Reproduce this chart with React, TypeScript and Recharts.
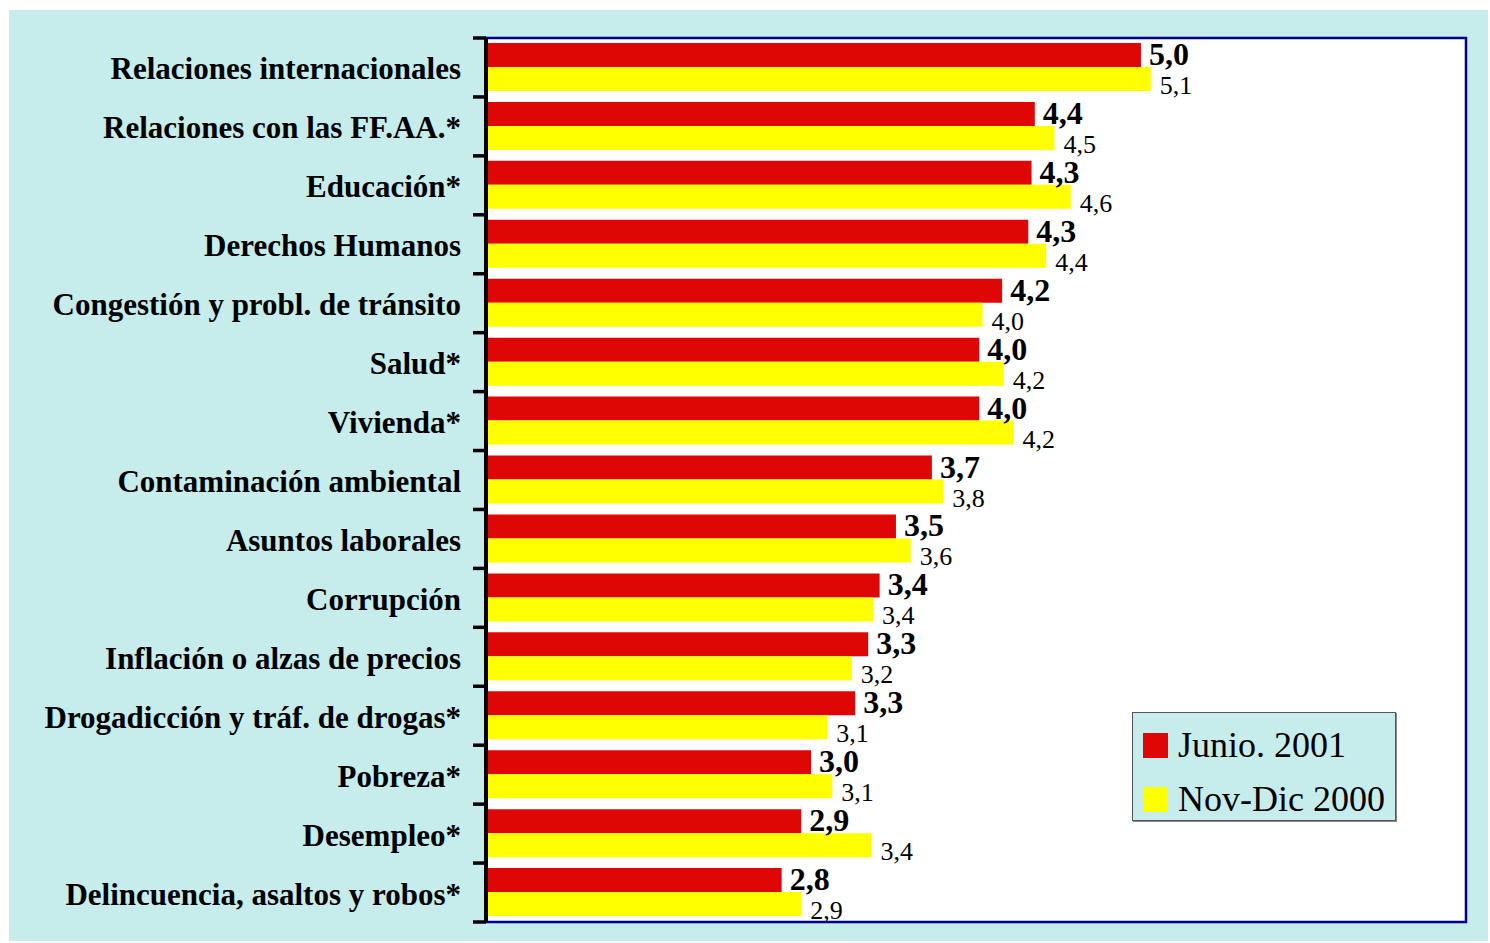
import React from 'react';
import { BarChart, Bar, XAxis, YAxis, ReferenceArea, LabelList, Legend } from 'recharts';

const categories = [
  'Relaciones internacionales',
  'Relaciones con las FF.AA.*',
  'Educación*',
  'Derechos Humanos',
  'Congestión y probl. de tránsito',
  'Salud*',
  'Vivienda*',
  'Contaminación ambiental',
  'Asuntos laborales',
  'Corrupción',
  'Inflación o alzas de precios',
  'Drogadicción y tráf. de drogas*',
  'Pobreza*',
  'Desempleo*',
  'Delincuencia, asaltos y robos*',
];

const junio2001 = [5.01, 4.36, 4.34, 4.32, 4.16, 4.02, 4.02, 3.73, 3.51, 3.41, 3.34, 3.26, 2.99, 2.93, 2.81];
const novDic2000 = [5.07, 4.48, 4.58, 4.43, 4.04, 4.17, 4.23, 3.8, 3.6, 3.37, 3.24, 3.09, 3.12, 3.36, 2.93];
const junioLabels = ['5,0', '4,4', '4,3', '4,3', '4,2', '4,0', '4,0', '3,7', '3,5', '3,4', '3,3', '3,3', '3,0', '2,9', '2,8'];
const novDicLabels = ['5,1', '4,5', '4,6', '4,4', '4,0', '4,2', '4,2', '3,8', '3,6', '3,4', '3,2', '3,1', '3,1', '3,4', '2,9'];

const seriesNames = ['Junio. 2001', 'Nov-Dic 2000'];
const xDomain = [1, 7];

const data = categories.map((c, i) => ({
  name: c,
  junio: junio2001[i],
  novdic: novDic2000[i],
  junioLabel: junioLabels[i],
  novdicLabel: novDicLabels[i],
}));

const FONT = '"Liberation Serif", "Times New Roman", serif';
const RED = '#DF0606';
const YELLOW = '#FFFF00';
const CYAN = '#C6ECEB';
const NAVY = '#00008C';

const W = 1479;
const H = 931;
const MARGIN = { top: 28, right: 22, bottom: 19, left: 0 };
const Y_AXIS_W = 477;
const BAND = (H - MARGIN.top - MARGIN.bottom) / categories.length;

const CategoryTick = (props: any) => {
  const { y, payload, index } = props;
  const top = y - BAND / 2;
  const bottom = y + BAND / 2;
  return (
    <g>
      <line x1={Y_AXIS_W - 13} x2={Y_AXIS_W} y1={top} y2={top} stroke="#000" strokeWidth={3.5} />
      {index === categories.length - 1 && (
        <line x1={Y_AXIS_W - 13} x2={Y_AXIS_W} y1={bottom} y2={bottom} stroke="#000" strokeWidth={3.5} />
      )}
      <text
        x={Y_AXIS_W - 25}
        y={y + 12}
        textAnchor="end"
        fontFamily={FONT}
        fontWeight="bold"
        fontSize={31}
        fill="#000"
      >
        {payload.value}
      </text>
    </g>
  );
};

const RedLabel = (props: any) => {
  const { x, y, width, height, value } = props;
  return (
    <text x={x + width + 8} y={y + height - 2} fontFamily={FONT} fontWeight="bold" fontSize={32} fill="#000">
      {value}
    </text>
  );
};

const YellowLabel = (props: any) => {
  const { x, y, width, height, value } = props;
  return (
    <text x={x + width + 9} y={y + height + 3} fontFamily={FONT} fontSize={26} fill="#000">
      {value}
    </text>
  );
};

const LegendBox = (props: any) => {
  const payload = props.payload || [];
  return (
    <div
      style={{
        position: 'relative',
        width: 262,
        height: 107,
        background: CYAN,
        border: '1.5px solid #555',
        boxShadow: '1px 1px 0 #888',
        fontFamily: FONT,
      }}
    >
      {payload.map((p: any, i: number) => (
        <div key={i} style={{ position: 'absolute', left: 10, top: 19 + i * 54, height: 26, display: 'flex', alignItems: 'center' }}>
          <div style={{ width: 25, height: 25, background: p.color }} />
          <span style={{ marginLeft: 10, fontSize: 36, lineHeight: '26px', color: '#000', whiteSpace: 'nowrap' }}>{p.value}</span>
        </div>
      ))}
    </div>
  );
};

export default function App() {
  return (
    <div style={{ position: 'absolute', left: 0, top: 0, width: 1490, height: 943, background: '#fff' }}>
      <div style={{ position: 'absolute', left: 9, top: 10, width: W, height: H, background: CYAN }}>
        <BarChart width={W} height={H} data={data} layout="vertical" margin={MARGIN} barGap={0} barSize={24}>
          <XAxis type="number" domain={xDomain} hide allowDataOverflow />
          <YAxis
            type="category"
            dataKey="name"
            width={Y_AXIS_W}
            axisLine={{ stroke: '#000', strokeWidth: 4 }}
            tickLine={false}
            tick={<CategoryTick />}
            interval={0}
          />
          <ReferenceArea x1={xDomain[0]} x2={xDomain[1]} fill="#fff" fillOpacity={1} stroke={NAVY} strokeWidth={2.5} />
          <Legend
            layout="vertical"
            align="center"
            verticalAlign="middle"
            content={<LegendBox />}
            wrapperStyle={{ position: 'absolute', left: 1123, top: 702, width: 'auto', height: 'auto' }}
          />
          <Bar dataKey="junio" name={seriesNames[0]} fill={RED} isAnimationActive={false}>
            <LabelList dataKey="junioLabel" content={<RedLabel />} />
          </Bar>
          <Bar dataKey="novdic" name={seriesNames[1]} fill={YELLOW} isAnimationActive={false}>
            <LabelList dataKey="novdicLabel" content={<YellowLabel />} />
          </Bar>
        </BarChart>
      </div>
    </div>
  );
}
